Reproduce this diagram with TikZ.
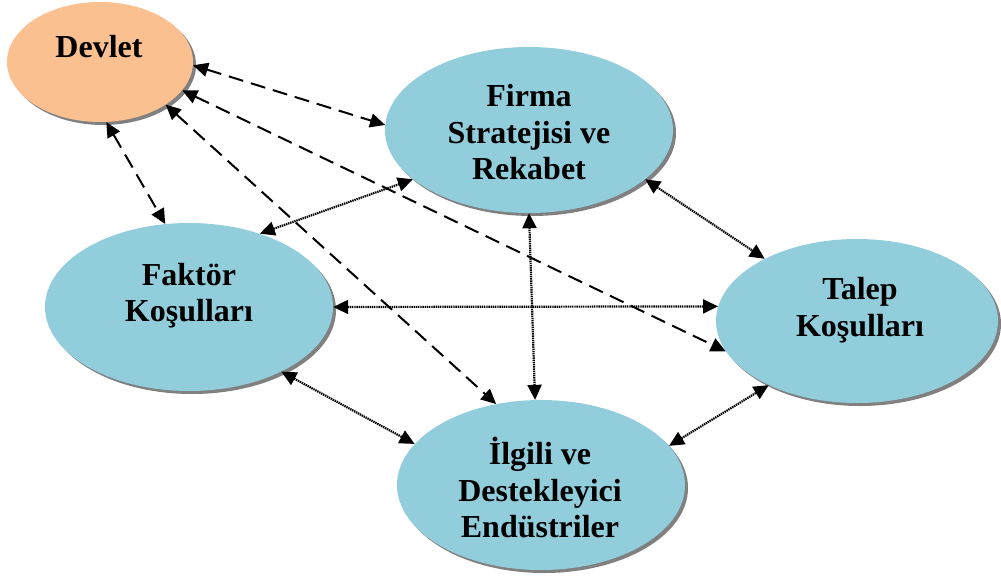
\documentclass[tikz,border=0pt]{standalone}
\usepackage{fontspec}
\setmainfont{Liberation Serif}
\usetikzlibrary{shapes.geometric,arrows.meta,shadows}
\definecolor{bluefill}{HTML}{92CDDC}
\definecolor{orangefill}{HTML}{FAC090}
\definecolor{shadowgray}{HTML}{808080}
\tikzset{
  oval/.style={ellipse, inner sep=0pt, fill=bluefill,
    drop shadow={shadow xshift=3pt, shadow yshift=-3pt, fill=shadowgray, opacity=1}},
  lbl/.style={font=\bfseries\fontsize{32}{36.5}\selectfont, align=center, inner sep=0pt},
  dashlink/.style={line width=2pt, dash pattern=on 15pt off 8pt,
    {Triangle[length=15pt,width=14pt]}-{Triangle[length=15pt,width=14pt]}},
  dotlink/.style={line width=2.2pt, dash pattern=on 1.4pt off 0.8pt,
    {Triangle[length=15pt,width=14pt]}-{Triangle[length=15pt,width=14pt]}}
}
\begin{document}
\begin{tikzpicture}[x=1pt,y=-1pt]
\useasboundingbox (0,0) rectangle (1001,576);
% ellipses
\node[oval, fill=orangefill, minimum width=186pt, minimum height=120pt] (dev) at (100,62) {};
\node[oval, minimum width=288pt, minimum height=166pt] (fir) at (529,130) {};
\node[oval, minimum width=288pt, minimum height=168pt] (fak) at (189,307) {};
\node[oval, minimum width=282pt, minimum height=164pt] (tal) at (857,321) {};
\node[oval, minimum width=288pt, minimum height=170pt] (ilg) at (541,485) {};
% labels
\node[lbl] (tdev) at (99,47) {Devlet};
\node[lbl] (tfir) at (529,132.5) {Firma\\Stratejisi ve\\Rekabet};
\node[lbl] (tfak) at (189,295.5) {Faktör\\Koşulları};
\node[lbl] (ttal) at (860,310) {Talep\\Koşulları};
\node[lbl] (tilg) at (540,487.5) {İlgili ve\\Destekleyici\\Endüstriler};
% dashed links from Devlet
\draw[dashlink] (dev.-2) -- (fir.178);
\draw[dashlink] (dev.-19) -- (tal.193.3);
\draw[dashlink] (dev.-33.7) -- (ilg.119.8);
\draw[dashlink] (dev.-84.9) -- (fak.106);
% dotted links
\draw[dotlink] (fir.203.1) -- (fak.46.2);
\draw[dotlink] (fir.-90) -- (ilg.94);
\draw[dotlink] (fir.-23.7) -- (tal.146.6);
\draw[dotlink] (fak.0) -- (tal.174.3);
\draw[dotlink] (fak.-35.7) -- (ilg.162.4);
\draw[dotlink] (ilg.17.4) -- (tal.216.9);
\end{tikzpicture}
\end{document}
